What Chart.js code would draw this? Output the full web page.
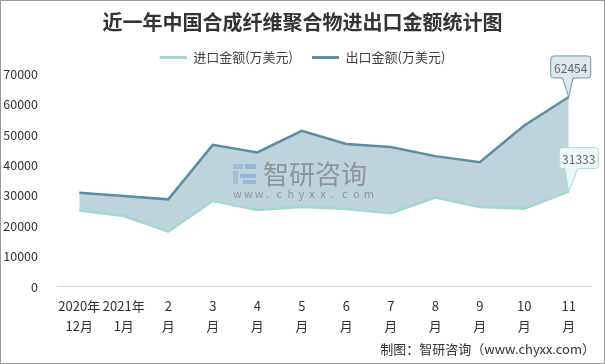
<!DOCTYPE html>
<html>
<head>
<meta charset="utf-8">
<script src="https://cdn.jsdelivr.net/npm/chart.js@4/dist/chart.umd.min.js"></script>
<style>
  html, body { margin: 0; padding: 0; background: #fff; }
  #wrap { width: 605px; height: 364px; position: relative; }
</style>
</head>
<body>
<div id="wrap"><canvas id="chart"></canvas></div>
<script>
const months = [
    ['2020年', '12月'], ['2021年', '1月'], ['2', '月'], ['3', '月'], ['4', '月'], ['5', '月'],
    ['6', '月'], ['7', '月'], ['8', '月'], ['9', '月'], ['10', '月'], ['11', '月']
];
const importValues = [25100, 23300, 18200, 28300, 25300, 26300, 25600, 24200, 29400, 26300, 25700, 31333];
const exportValues = [31000, 29900, 28800, 46700, 44200, 51300, 47000, 46000, 43000, 41000, 53100, 62454];
const yTicks = [0, 10000, 20000, 30000, 40000, 50000, 60000, 70000];

const font = '"Noto Sans CJK SC", "Noto Sans", sans-serif';

// frame, watermark, callouts and the footer line
const decor = {
    id: 'decor',
    beforeDraw(chart) {
        const ctx = chart.ctx;
        ctx.save();
        ctx.strokeStyle = '#9a9a9a';
        ctx.lineWidth = 1;
        ctx.strokeRect(0.5, 0.5, chart.width - 1, chart.height - 1);
        ctx.restore();
    },
    afterDatasetsDraw(chart) {
        const ctx = chart.ctx;
        ctx.save();
        // watermark
        ctx.globalAlpha = 0.75;
        ctx.fillStyle = '#9db6d3';
        ctx.fillRect(233, 164, 10, 5);
        ctx.fillRect(233, 171, 5, 13);
        ctx.fillStyle = '#86acd6';
        ctx.fillRect(245, 164, 11, 5);
        ctx.fillRect(240, 174, 16, 4);
        ctx.fillRect(243, 180, 13, 4);
        ctx.fillStyle = '#7f7f7f';
        ctx.font = '26px ' + font;
        ctx.textBaseline = 'middle';
        ctx.textAlign = 'left';
        ctx.fillText('智研咨询', 263, 174);
        ctx.font = '11px ' + font;
        const wm = 'www.chyxx.com'.split('');
        wm.forEach((c, i) => ctx.fillText(c, 233 + i * 10.9, 194));
        ctx.restore();

        const boxes = [
            { ds: 1, fill: '#dfe7ec', stroke: '#6f97a8', w: 40, h: 22, dy: -41, dx: 2 },
            { ds: 0, fill: '#eef8f8', stroke: '#a6dcd9', w: 39, h: 21, dy: -44, dx: 10 }
        ];
        boxes.forEach(b => {
            const meta = chart.getDatasetMeta(b.ds);
            const last = meta.data[meta.data.length - 1];
            const value = chart.data.datasets[b.ds].data[meta.data.length - 1];
            const px = last.x, py = last.y;
            const left = px - b.w / 2 + b.dx, top = py + b.dy, r = 3;
            const right = left + b.w, bottom = top + b.h;
            const baseL = px - 7 + b.dx * 0.3, baseR = px + 3 + b.dx * 0.6;
            ctx.save();
            ctx.beginPath();
            ctx.moveTo(left + r, top);
            ctx.lineTo(right - r, top);
            ctx.quadraticCurveTo(right, top, right, top + r);
            ctx.lineTo(right, bottom - r);
            ctx.quadraticCurveTo(right, bottom, right - r, bottom);
            ctx.lineTo(baseR, bottom);
            ctx.lineTo(px, py);
            ctx.lineTo(baseL, bottom);
            ctx.lineTo(left + r, bottom);
            ctx.quadraticCurveTo(left, bottom, left, bottom - r);
            ctx.lineTo(left, top + r);
            ctx.quadraticCurveTo(left, top, left + r, top);
            ctx.closePath();
            ctx.fillStyle = b.fill;
            ctx.fill();
            ctx.strokeStyle = b.stroke;
            ctx.lineWidth = 1;
            ctx.stroke();
            ctx.fillStyle = '#666';
            ctx.font = '12px ' + font;
            ctx.textAlign = 'center';
            ctx.textBaseline = 'middle';
            ctx.fillText(String(value), left + b.w / 2, top + b.h / 2 + 1);
            ctx.restore();
        });
    },
    afterDraw(chart) {
        const ctx = chart.ctx;
        ctx.save();
        ctx.fillStyle = '#333';
        ctx.font = '13px ' + font;
        ctx.textAlign = 'right';
        ctx.textBaseline = 'middle';
        ctx.fillText('制图：智研咨询（www.chyxx.com）', 595, 349);
        ctx.restore();
    }
};

new Chart(document.getElementById('chart'), {
    type: 'line',
    data: {
        labels: months,
        datasets: [{
            label: '进口金额(万美元)',
            data: importValues,
            borderColor: '#a0d8d5',
            backgroundColor: '#a0d8d5',
            borderWidth: 2.5,
            pointRadius: 0,
            tension: 0,
            fill: false
        }, {
            label: '出口金额(万美元)',
            data: exportValues,
            borderColor: '#5b8ea3',
            backgroundColor: '#bfd3dc',
            borderWidth: 2.5,
            pointRadius: 0,
            tension: 0,
            fill: '-1'
        }]
    },
    options: {
        responsive: true,
        maintainAspectRatio: false,
        animation: false,
        layout: { padding: { top: 0, right: 0, bottom: 19, left: 0 } },
        plugins: {
            title: {
                display: true,
                text: '近一年中国合成纤维聚合物进出口金额统计图',
                color: '#333',
                font: { family: font, size: 20, weight: 'bold', lineHeight: 1 },
                padding: { top: 12, bottom: 0 }
            },
            legend: {
                display: true,
                labels: {
                    color: '#404040',
                    font: { family: font, size: 13 },
                    boxWidth: 27,
                    boxHeight: 3,
                    padding: 19,
                    generateLabels(chart) {
                        return Chart.defaults.plugins.legend.labels.generateLabels(chart).map(item => {
                            item.fillStyle = item.strokeStyle;
                            item.lineWidth = 0;
                            return item;
                        });
                    }
                }
            },
            tooltip: { enabled: false }
        },
        scales: {
            x: {
                offset: true,
                grid: { display: false, drawTicks: false },
                border: { display: true, color: '#d9d9d9', width: 1 },
                ticks: {
                    color: '#333',
                    font: { family: font, size: 13, lineHeight: 1.54 },
                    padding: 9,
                    maxRotation: 0,
                    autoSkip: false
                }
            },
            y: {
                min: 0,
                max: 70000,
                afterFit(scale) { scale.width = 57; },
                afterBuildTicks(scale) { scale.ticks = yTicks.map(v => ({ value: v })); },
                grid: { display: false, drawTicks: false },
                border: { display: false },
                ticks: {
                    color: '#333',
                    font: { family: font, size: 12.5 },
                    padding: 19,
                    callback: v => String(v)
                }
            },
            // empty right-hand gutter so the title and legend stay centred on the canvas
            gutter: {
                position: 'right',
                min: 0,
                max: 70000,
                afterFit(scale) { scale.width = 14; },
                grid: { display: false, drawTicks: false },
                border: { display: false },
                ticks: { display: false }
            }
        }
    },
    plugins: [decor]
});
</script>
</body>
</html>
